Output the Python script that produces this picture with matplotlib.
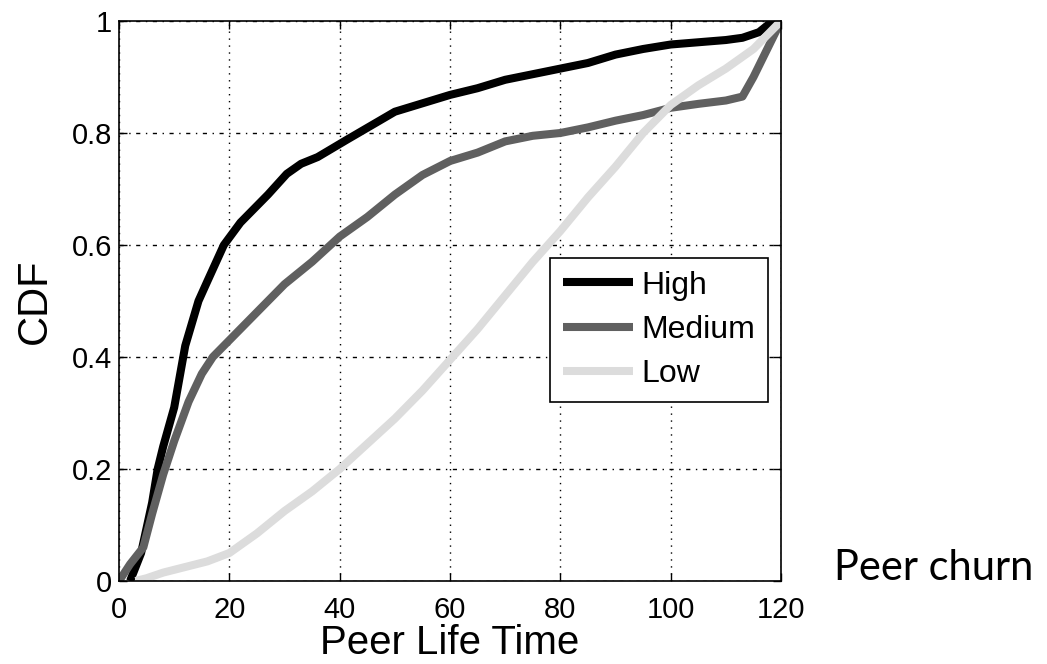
import numpy as np
import matplotlib.pyplot as plt

plt.rcParams['font.family'] = ['Liberation Sans', 'DejaVu Sans']

# CDF of peer life time
high_x = [2, 4, 6, 7, 8, 10, 12, 14.4, 16, 19, 22, 25, 27, 30.4, 33, 36, 41.3, 46, 50, 55, 60, 65, 70, 75, 80, 85, 90, 95, 100, 105, 110, 113, 116, 118.5, 120]
high_y = [0, 0.05, 0.14, 0.2, 0.24, 0.31, 0.42, 0.5, 0.535, 0.6, 0.64, 0.67, 0.69, 0.727, 0.745, 0.757, 0.788, 0.815, 0.838, 0.853, 0.868, 0.88, 0.895, 0.905, 0.915, 0.925, 0.94, 0.95, 0.958, 0.962, 0.966, 0.97, 0.98, 1.0, 1.0]

med_x = [0, 2, 4.4, 6, 8, 10, 12.6, 15, 17, 20, 25, 30, 35, 40, 45, 50, 55, 60, 65, 70, 75, 80, 85, 90, 95, 100, 105, 110, 113, 115, 117.5, 120]
med_y = [0, 0.03, 0.06, 0.12, 0.19, 0.25, 0.32, 0.37, 0.4, 0.43, 0.48, 0.53, 0.57, 0.615, 0.65, 0.69, 0.725, 0.75, 0.765, 0.785, 0.795, 0.8, 0.81, 0.822, 0.832, 0.845, 0.852, 0.858, 0.865, 0.9, 0.95, 1.0]

low_x = [3, 5, 8, 12, 16, 20, 25, 30, 35, 40, 45, 50, 55, 60, 65, 70, 75, 80, 85, 90, 95, 100, 105, 110, 115, 120]
low_y = [0, 0.005, 0.015, 0.025, 0.035, 0.05, 0.085, 0.125, 0.16, 0.2, 0.245, 0.29, 0.34, 0.395, 0.45, 0.51, 0.57, 0.625, 0.685, 0.74, 0.8, 0.85, 0.885, 0.915, 0.95, 1.0]

labels = ['High', 'Medium', 'Low']
colors = ['#000000', '#606060', '#dcdcdc']

fig = plt.figure(figsize=(10.47, 6.64), dpi=100)
ax = fig.add_axes([0.1137, 0.125, 0.6323, 0.8434])

for xs, ys, lab, c in zip([high_x, med_x, low_x], [high_y, med_y, low_y], labels, colors):
    ax.plot(xs, ys, color=c, lw=5.8, label=lab, solid_capstyle='butt')

ax.set_xlim(0, 120)
ax.set_ylim(0, 1)
ax.set_xticks(range(0, 121, 20))
ax.set_yticks([0, 0.2, 0.4, 0.6, 0.8, 1])
ax.set_yticklabels(['0', '0.2', '0.4', '0.6', '0.8', '1'])
ax.tick_params(direction='in', length=6, width=1, labelsize=21, top=True, right=True)
ax.tick_params(axis='x', pad=11)
ax.tick_params(axis='y', pad=5)

ax.xaxis.grid(True, color='black', lw=1, linestyle=(0, (1, 4)))
ax.yaxis.grid(True, color='black', lw=1, linestyle=(0, (3, 4, 1, 4)))
ax.set_axisbelow(True)
for s in ax.spines.values():
    s.set_linewidth(1.2)

ax.set_xlabel('Peer Life Time', fontsize=29, labelpad=0)
ax.set_ylabel('CDF', fontsize=30, labelpad=12)

leg = ax.legend(loc='upper right', bbox_to_anchor=(0.98, 0.577), fontsize=23,
                frameon=True, fancybox=False, edgecolor='black', framealpha=1,
                handlelength=2.2, handletextpad=0.25, borderpad=0.4, labelspacing=0.45,
                borderaxespad=0)
leg.get_frame().set_linewidth(1.2)

fig.text(0.797, 0.145, 'Peer churn', fontsize=30, family=['Lato', 'DejaVu Sans'], va='center')

fig.savefig('out.png', dpi=100)
